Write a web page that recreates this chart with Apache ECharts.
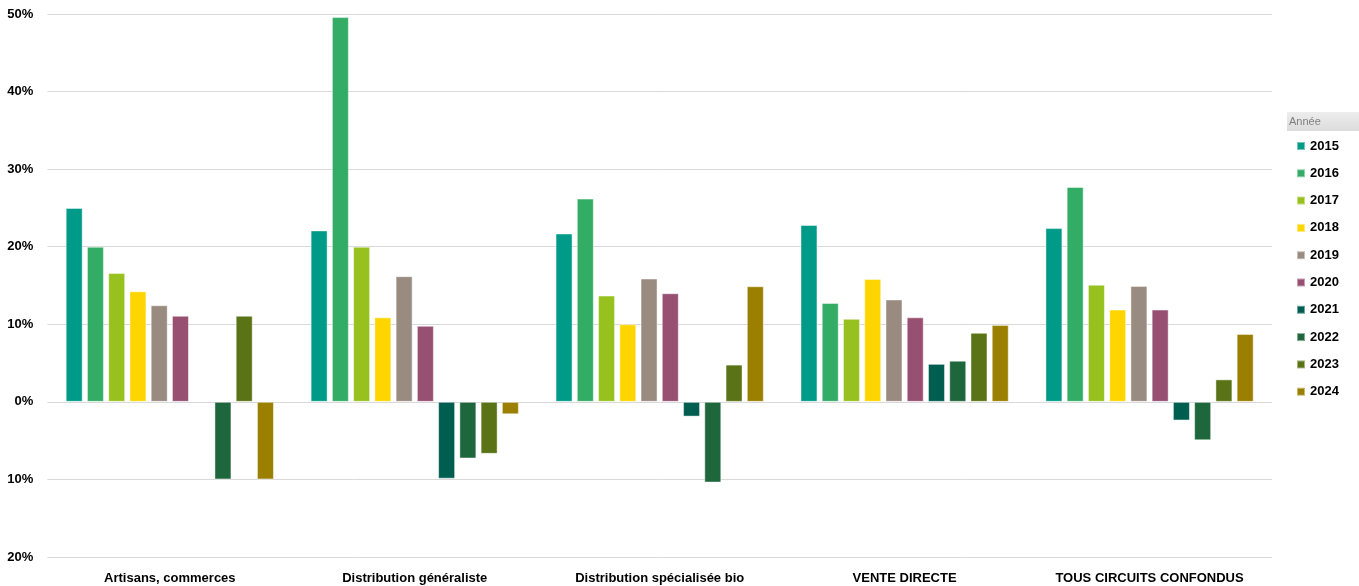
<!DOCTYPE html>
<html>
<head>
<meta charset="utf-8">
<script src="https://cdn.jsdelivr.net/npm/echarts@6/dist/echarts.min.js"></script>
<style>
html,body{margin:0;padding:0;width:1359px;height:586px;overflow:hidden;background:#fff;}
#wrap{position:absolute;left:7px;top:0;width:1352px;height:586px;overflow:hidden;}
#c{position:absolute;left:-7px;top:0;width:1359px;height:586px;}
</style>
</head>
<body>
<div id="wrap"><div id="c"></div></div>
<script>
const categories = ["Artisans, commerces", "Distribution généraliste", "Distribution spécialisée bio", "VENTE DIRECTE", "TOUS CIRCUITS CONFONDUS"];
const years = ["2015","2016","2017","2018","2019","2020","2021","2022","2023","2024"];
const v2015 = [25.0, 22.1, 21.7, 22.8, 22.4];
const v2016 = [20.0, 49.6, 26.2, 12.75, 27.7];
const v2017 = [16.6, 20.0, 13.7, 10.7, 15.1];
const v2018 = [14.25, 10.9, 10.0, 15.85, 11.9];
const v2019 = [12.45, 16.2, 15.9, 13.2, 14.95];
const v2020 = [11.1, 9.8, 14.0, 10.9, 11.9];
const v2021 = [null, -9.9, -1.9, 4.9, -2.4];
const v2022 = [-10.0, -7.3, -10.4, 5.3, -4.95];
const v2023 = [11.1, -6.7, 4.8, 8.9, 2.9];
const v2024 = [-10.0, -1.6, 14.9, 9.9, 8.75];
const seriesValues = [v2015, v2016, v2017, v2018, v2019, v2020, v2021, v2022, v2023, v2024];
const yTicks = {min: -20, max: 50, interval: 10};
const legendTitle = "Année";

const colors = ["#009B88","#33AD66","#97C11F","#FFD500","#9A8B80","#975072","#005E50","#1E673D","#5A7316","#9A7F00"];

const chart = echarts.init(document.getElementById('c'));
chart.setOption({
  animation: false,
  color: colors,
  grid: {left: 47, right: 87, top: 14, bottom: 29, containLabel: false},
  legend: {
    orient: 'vertical', left: 1291, top: 134,
    itemWidth: 8, itemHeight: 8, itemGap: 13.3, itemTextGap: 4,
    icon: 'rect',
    textStyle: {fontFamily: 'Liberation Sans, Arial', fontWeight: 'bold', fontSize: 13, color: '#000', lineHeight: 14},
    data: years
  },
  graphic: [
    {type: 'rect', left: 1287, top: 112, shape: {width: 72, height: 19},
     style: {fill: new echarts.graphic.LinearGradient(0,0,0,1,[{offset:0,color:'#ededed'},{offset:1,color:'#dcdcdc'}])}},
    {type: 'text', left: 1289, top: 116, style: {text: legendTitle, fill: '#7f7f7f', fontSize: 11, fontFamily: 'Liberation Sans, Arial'}}
  ],
  xAxis: {
    type: 'category', data: categories,
    axisLine: {show: false, onZero: false},
    axisTick: {show: false},
    axisLabel: {interval: 0, margin: 15, color: '#000', fontWeight: 'bold', fontSize: 13, fontFamily: 'Liberation Sans, Arial'}
  },
  yAxis: {
    type: 'value', min: yTicks.min, max: yTicks.max, interval: yTicks.interval,
    axisLine: {show: false}, axisTick: {show: false},
    splitLine: {lineStyle: {color: '#d9d9d9', width: 1}},
    axisLabel: {formatter: '{value}%', margin: 14, color: '#000', fontWeight: 'bold', fontSize: 13, fontFamily: 'Liberation Sans, Arial'}
  },
  series: years.map((y, i) => ({
    name: y, type: 'bar', data: seriesValues[i],
    barWidth: 17, barGap: '25%',
    itemStyle: {borderColor: 'rgba(255,255,255,0.45)', borderWidth: 1}
  }))
});
</script>
</body>
</html>
